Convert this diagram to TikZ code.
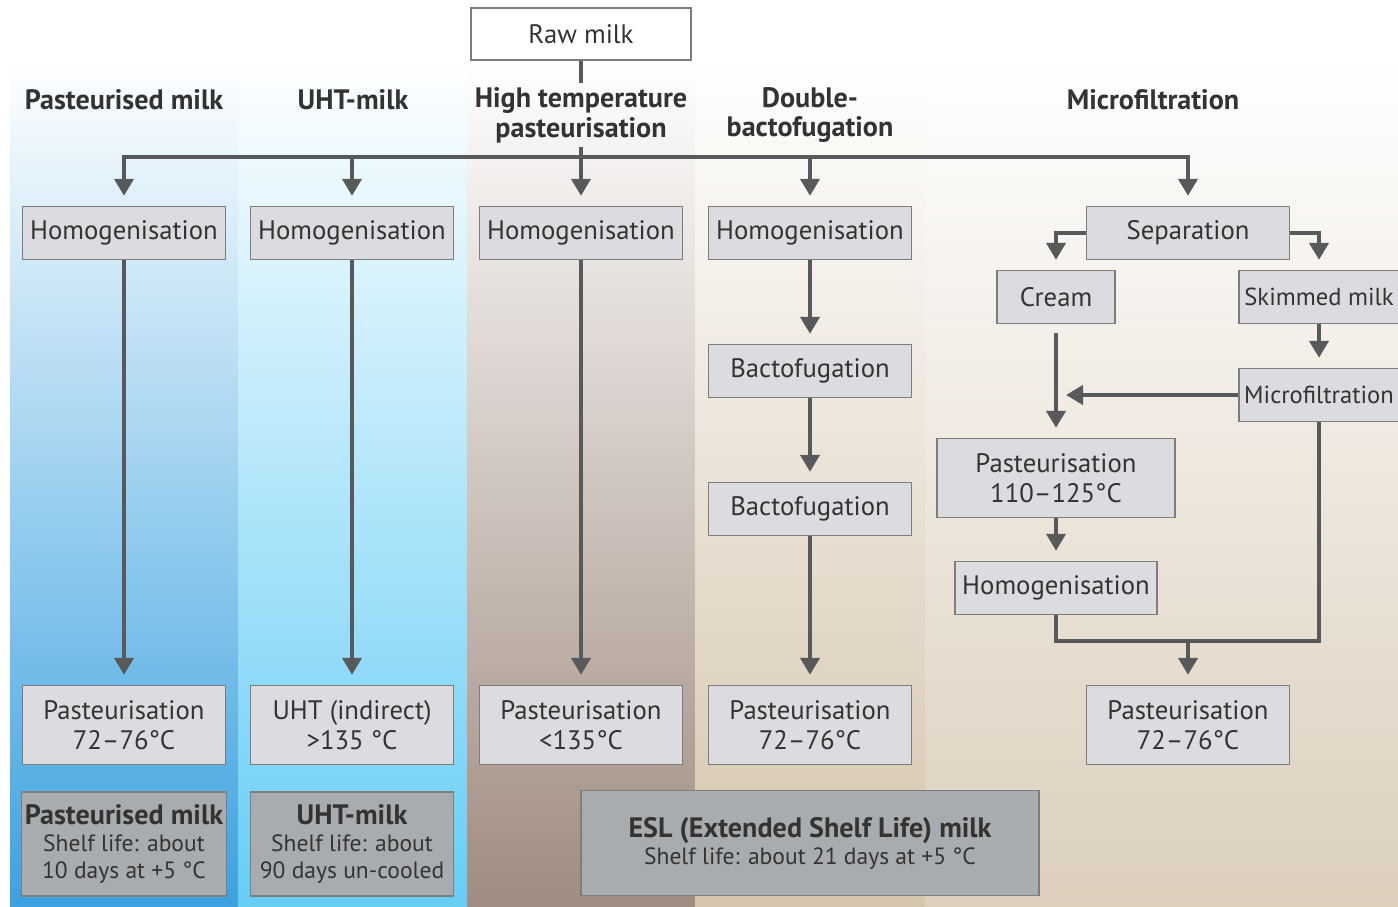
\documentclass[tikz,border=0pt]{standalone}
\usepackage{fontspec}
\setmainfont{PT Sans}
\usetikzlibrary{arrows.meta}
\definecolor{ink}{HTML}{333333}
\definecolor{wirecol}{HTML}{58595B}
\definecolor{boxfill}{HTML}{DCDCE0}
\definecolor{boxline}{HTML}{7D7D7D}
\definecolor{endfill}{HTML}{A9ACAF}
\definecolor{bgA}{HTML}{3CA2E0}
\definecolor{bgB}{HTML}{66CDF5}
\definecolor{bgC}{HTML}{A08C80}
\definecolor{bgD}{HTML}{D5C5AC}
\definecolor{bgE}{HTML}{DCCFBC}
\newcommand{\titlefont}{\fontsize{16}{15.3}\selectfont\bfseries}

\begin{document}
\begin{tikzpicture}[x=0.02cm,y=-0.02cm,font=\fontsize{15.2}{17}\selectfont,text=ink,
  proc/.style={draw=boxline,fill=boxfill,line width=0.8pt,minimum width=4.06cm,minimum height=1.06cm,align=center,inner sep=2pt},
  proc2/.style={proc,minimum height=1.58cm},
  edgebox/.style={proc,minimum width=3.2cm,inner xsep=0pt,font=\fontsize{14}{17}\selectfont},
  result/.style={proc,fill=endfill,minimum height=2.08cm,font=\fontsize{13.4}{15.3}\selectfont},
  head/.style={font=\fontsize{16}{17}\selectfont\bfseries,align=center,inner sep=2pt},
  wire/.style={draw=wirecol,line width=2.3pt},
  arr/.style={wire,-{Triangle[length=0.34cm,width=0.38cm]},shorten >=0.2cm}]
 \useasboundingbox (0,0) rectangle (1398,906);
 % column backgrounds
 \fill[white] (0,0) rectangle (1398,906);
 \shade[top color=white,bottom color=bgA] (10,60) rectangle (238,906);
 \shade[top color=white,bottom color=bgB] (238,60) rectangle (467,906);
 \shade[top color=white,bottom color=bgC] (467,60) rectangle (695,906);
 \shade[top color=white,bottom color=bgD] (695,60) rectangle (925,906);
 \shade[top color=white,bottom color=bgE] (925,60) rectangle (1398,906);

 % headings
 \node[draw=boxline,fill=white,line width=0.8pt,minimum width=4.4cm,minimum height=1.04cm] (raw) at (581,34) {Raw milk};
 \node[head] (hPast) at (124,100) {Pasteurised milk};
 \node[head] (hUHT) at (353,100) {UHT-milk};
 \node[head] (hHTP) at (581,115) {High temperature\\pasteurisation};
 \node[head] (hDbl) at (810,115) {Double-\\bactofugation};
 \node[head] (hMF) at (1153,100) {Microfiltration};
 \coordinate (jn) at (581,157);

 % process steps
 \foreach \n/\x in {homA/124,homB/352,homC/581,homD/810}
   \node[proc] (\n) at (\x,233) {Homogenisation};
 \node[proc] (bacA) at (810,371) {Bactofugation};
 \node[proc] (bacB) at (810,509) {Bactofugation};
 \node[proc] (sep) at (1188,233) {Separation};
 \node[proc,minimum width=2.36cm] (cream) at (1056,297) {Cream};
 \node[edgebox] (skim) at (1319,297) {Skimmed milk};
 \node[edgebox] (mfil) at (1319,395) {Microfiltration};
 \node[proc2,minimum width=4.76cm] (pastMF) at (1056,478) {Pasteurisation\\110–125°C};
 \node[proc,minimum width=4.04cm] (homE) at (1056,588) {Homogenisation};
 \coordinate (mrg) at (1188,641);

 % heat treatment
 \node[proc2] (pastA) at (124,725) {Pasteurisation\\72–76°C};
 \node[proc2] (uhtB) at (352,725) {UHT (indirect)\\>135 °C};
 \node[proc2] (pastC) at (581,725) {Pasteurisation\\<135°C};
 \node[proc2] (pastD) at (810,725) {Pasteurisation\\72–76°C};
 \node[proc2] (pastE) at (1188,725) {Pasteurisation\\72–76°C};

 % products
 \node[result] (endA) at (124,844) {{\titlefont Pasteurised milk}\\Shelf life: about\\10 days at +5 °C};
 \node[result] (endB) at (352,844) {{\titlefont UHT-milk}\\Shelf life: about\\90 days un-cooled};
 \node[result,minimum width=9.16cm,minimum height=2.1cm] (esl) at (810,843) {{\titlefont ESL (Extended Shelf Life) milk}\\Shelf life: about 21 days at +5 °C};

 % connectors
 \draw[wire] (raw) -- (hHTP);
 \draw[wire] (hHTP) -- (jn);
 \draw[arr] (jn) -| (homA);
 \draw[arr] (jn) -| (homB);
 \draw[arr] (jn) -- (homC);
 \draw[arr] (jn) -| (homD);
 \draw[arr] (jn) -| (sep);
 \draw[arr] (homA) -- (pastA);
 \draw[arr] (homB) -- (uhtB);
 \draw[arr] (homC) -- (pastC);
 \draw[arr] (homD) -- (bacA);
 \draw[arr] (bacA) -- (bacB);
 \draw[arr] (bacB) -- (pastD);
 \draw[arr] (sep.west) -| (cream);
 \draw[arr] (sep.east) -| (skim);
 \draw[arr] (skim) -- (mfil);
 \draw[arr,shorten <=0.18cm] (cream) -- (pastMF);
 \draw[arr] (mfil) -- (mfil -| cream);
 \draw[arr] (pastMF) -- (homE);
 \draw[wire] (homE) |- (mrg) -| (mfil);
 \draw[arr] (mrg) -- (pastE);
\end{tikzpicture}
\end{document}
